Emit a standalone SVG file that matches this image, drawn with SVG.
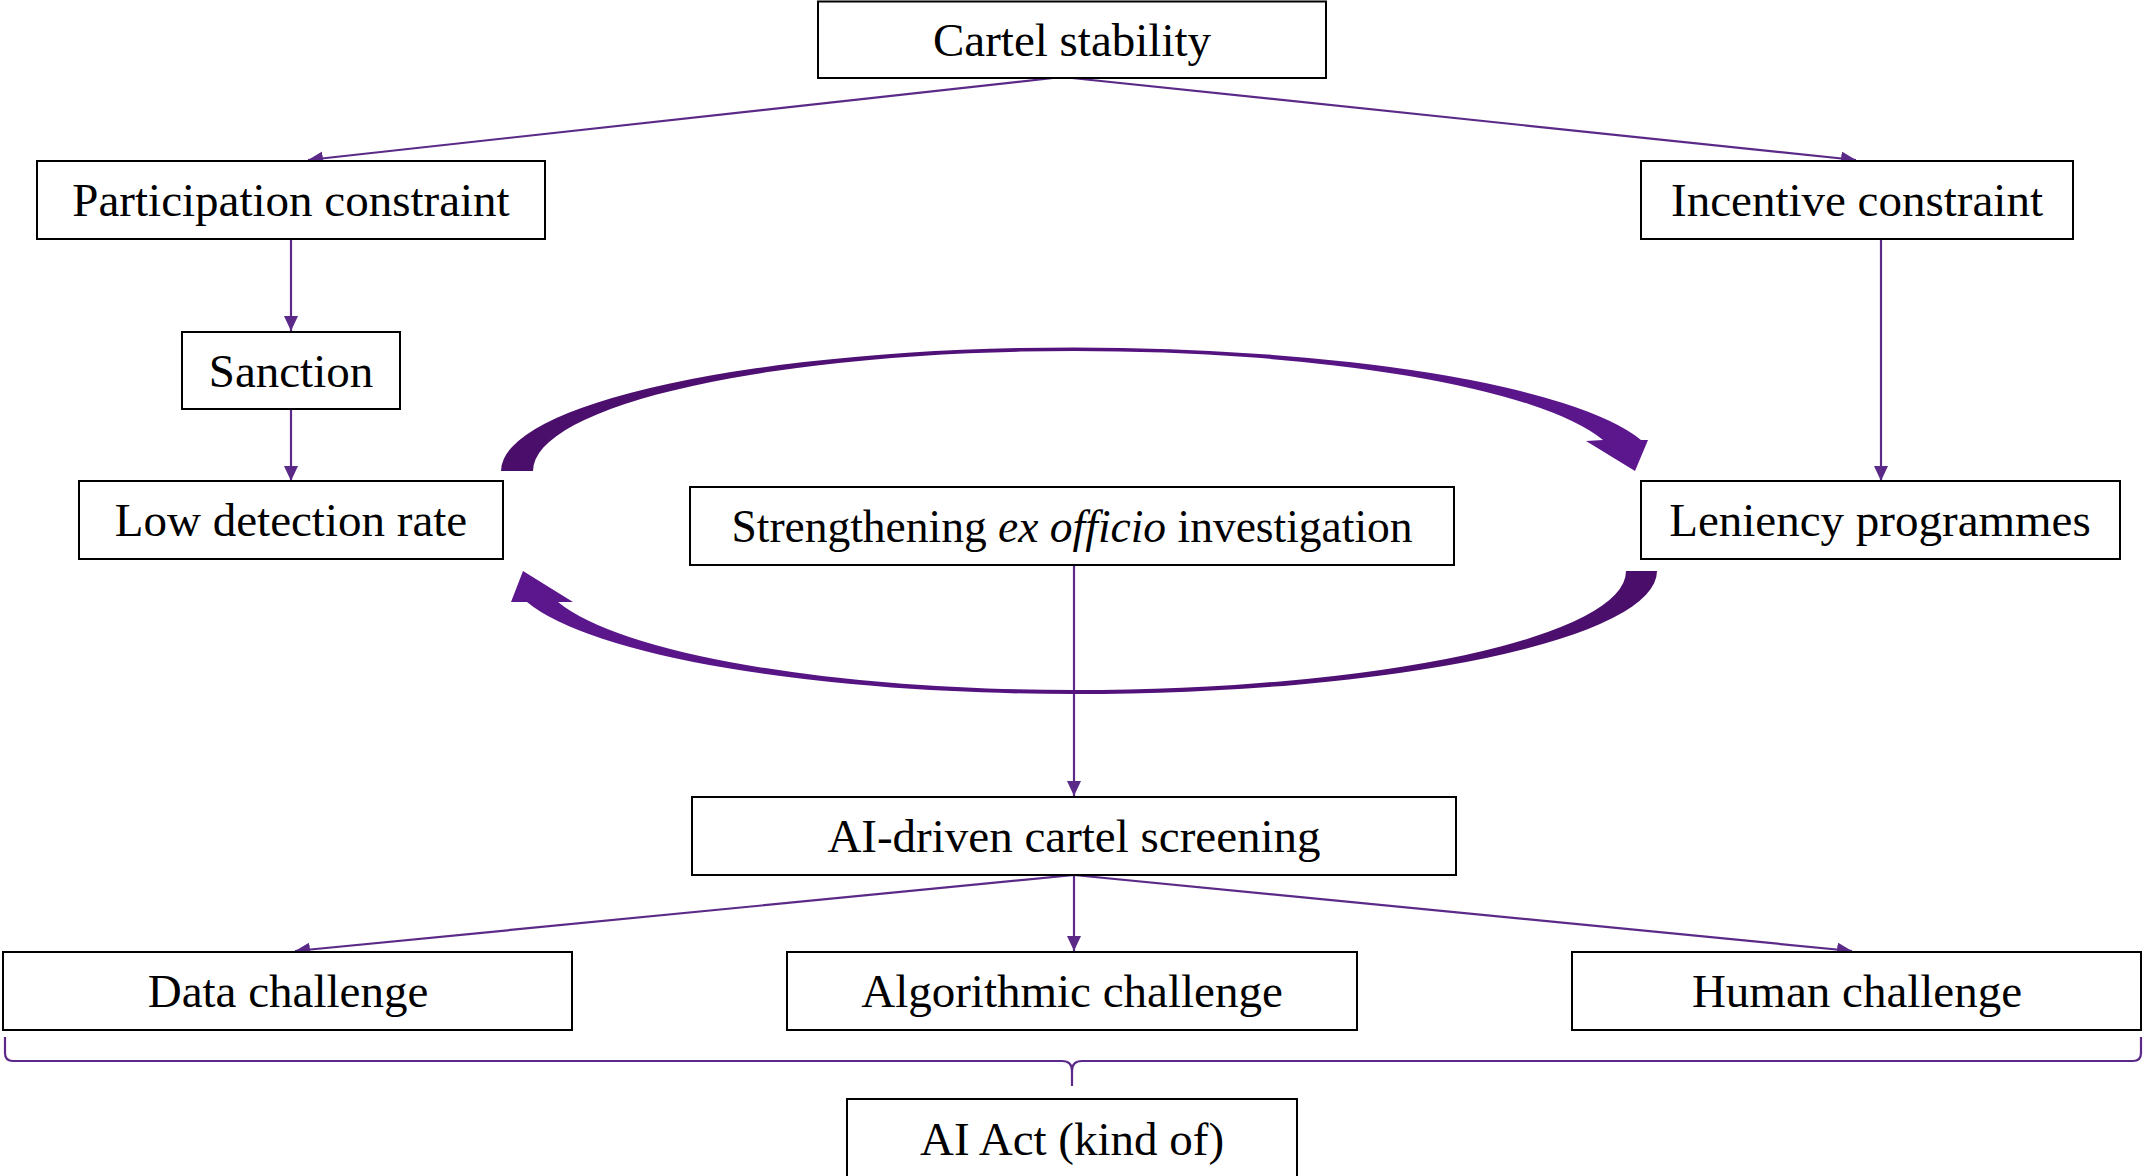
<svg xmlns="http://www.w3.org/2000/svg" width="2143" height="1176" viewBox="0 0 2143 1176">
<style>
.box{fill:#fff;stroke:#000;stroke-width:2}
.lbl{font-family:"Liberation Serif","DejaVu Serif",serif;font-size:47px;fill:#000;text-anchor:middle}
.con{fill:none;stroke:#5B2A88;stroke-width:2.2}
.brace{fill:none;stroke:#5B2A88;stroke-width:2.2}
</style>
<defs>
<marker id="ah" markerUnits="userSpaceOnUse" markerWidth="16" markerHeight="14" refX="15" refY="7" orient="auto">
<path d="M0,0 L15,7 L0,14 Z" fill="#5B2A88"/>
</marker>
<linearGradient id="gTop" x1="0" y1="0" x2="1" y2="0">
<stop offset="0" stop-color="#4A0E6A"/>
<stop offset="1" stop-color="#5C178E"/>
</linearGradient>
<linearGradient id="gBot" x1="1" y1="0" x2="0" y2="0">
<stop offset="0" stop-color="#4A0E6A"/>
<stop offset="1" stop-color="#5C178E"/>
</linearGradient>
</defs>
<rect width="2143" height="1176" fill="#fff"/>

<g id="connectors">
<line class="con" x1="1053" y1="78" x2="308" y2="160" marker-end="url(#ah)"/>
<line class="con" x1="1072" y1="78" x2="1856" y2="160" marker-end="url(#ah)"/>
<line class="con" x1="291" y1="239" x2="291" y2="331" marker-end="url(#ah)"/>
<line class="con" x1="291" y1="409" x2="291" y2="481" marker-end="url(#ah)"/>
<line class="con" x1="1881" y1="239" x2="1881" y2="481" marker-end="url(#ah)"/>
<line class="con" x1="1074" y1="565" x2="1074" y2="796" marker-end="url(#ah)"/>
<line class="con" x1="1074" y1="875" x2="295" y2="951" marker-end="url(#ah)"/>
<line class="con" x1="1074" y1="875" x2="1074" y2="951" marker-end="url(#ah)"/>
<line class="con" x1="1074" y1="875" x2="1852" y2="951" marker-end="url(#ah)"/>
<path id="arcTop" d="M501,471 A573,123.5 0 0 1 1074,347.5 A586,123.5 0 0 1 1641,440 L1648,440 L1635,471 L1586,441 L1603,440 A547.6,120 0 0 0 1074,351 A541,120 0 0 0 533,471 Z" fill="url(#gTop)"/>
<path id="arcBottom" d="M1657,571 A583,123 0 0 1 1074,694 A565,123 0 0 1 527,602 L511,602 L523,571 L573,602 L558,602 A534.5,119 0 0 0 1074,690 A552,119 0 0 0 1626,571 Z" fill="url(#gBot)"/>
<path class="brace" d="M5,1037 L5,1053 Q5,1061 13,1061 L1062,1061 Q1072,1061 1072,1071 L1072,1086 M1072,1071 Q1072,1061 1082,1061 L2133,1061 Q2141,1061 2141,1053 L2141,1037"/>
</g>

<g id="cartel-stability">
<rect class="box" x="818" y="1.5" width="508" height="76.5"/>
<text class="lbl" x="1072" y="56">Cartel stability</text>
</g>
<g id="participation-constraint">
<rect class="box" x="37" y="161" width="508" height="78"/>
<text class="lbl" x="291" y="216">Participation constraint</text>
</g>
<g id="incentive-constraint">
<rect class="box" x="1641" y="161" width="432" height="78"/>
<text class="lbl" x="1857" y="216">Incentive constraint</text>
</g>
<g id="sanction">
<rect class="box" x="182" y="332" width="218" height="77"/>
<text class="lbl" x="291" y="387">Sanction</text>
</g>
<g id="low-detection-rate">
<rect class="box" x="79" y="481" width="424" height="78"/>
<text class="lbl" x="291" y="536">Low detection rate</text>
</g>
<g id="strengthening">
<rect class="box" x="690" y="487" width="764" height="78"/>
<text class="lbl" x="1072" y="542" style="font-size:45.5px">Strengthening <tspan font-style="italic">ex officio</tspan> investigation</text>
</g>
<g id="leniency-programmes">
<rect class="box" x="1641" y="481" width="479" height="78"/>
<text class="lbl" x="1880" y="536">Leniency programmes</text>
</g>
<g id="ai-driven-screening">
<rect class="box" x="692" y="797" width="764" height="78"/>
<text class="lbl" x="1074" y="852">AI-driven cartel screening</text>
</g>
<g id="data-challenge">
<rect class="box" x="3" y="952" width="569" height="78"/>
<text class="lbl" x="288" y="1007">Data challenge</text>
</g>
<g id="algorithmic-challenge">
<rect class="box" x="787" y="952" width="570" height="78"/>
<text class="lbl" x="1072" y="1007">Algorithmic challenge</text>
</g>
<g id="human-challenge">
<rect class="box" x="1572" y="952" width="569" height="78"/>
<text class="lbl" x="1857" y="1007">Human challenge</text>
</g>
<g id="ai-act">
<rect class="box" x="847" y="1099" width="450" height="80"/>
<text class="lbl" x="1072" y="1155">AI Act (kind of)</text>
</g>
</svg>
